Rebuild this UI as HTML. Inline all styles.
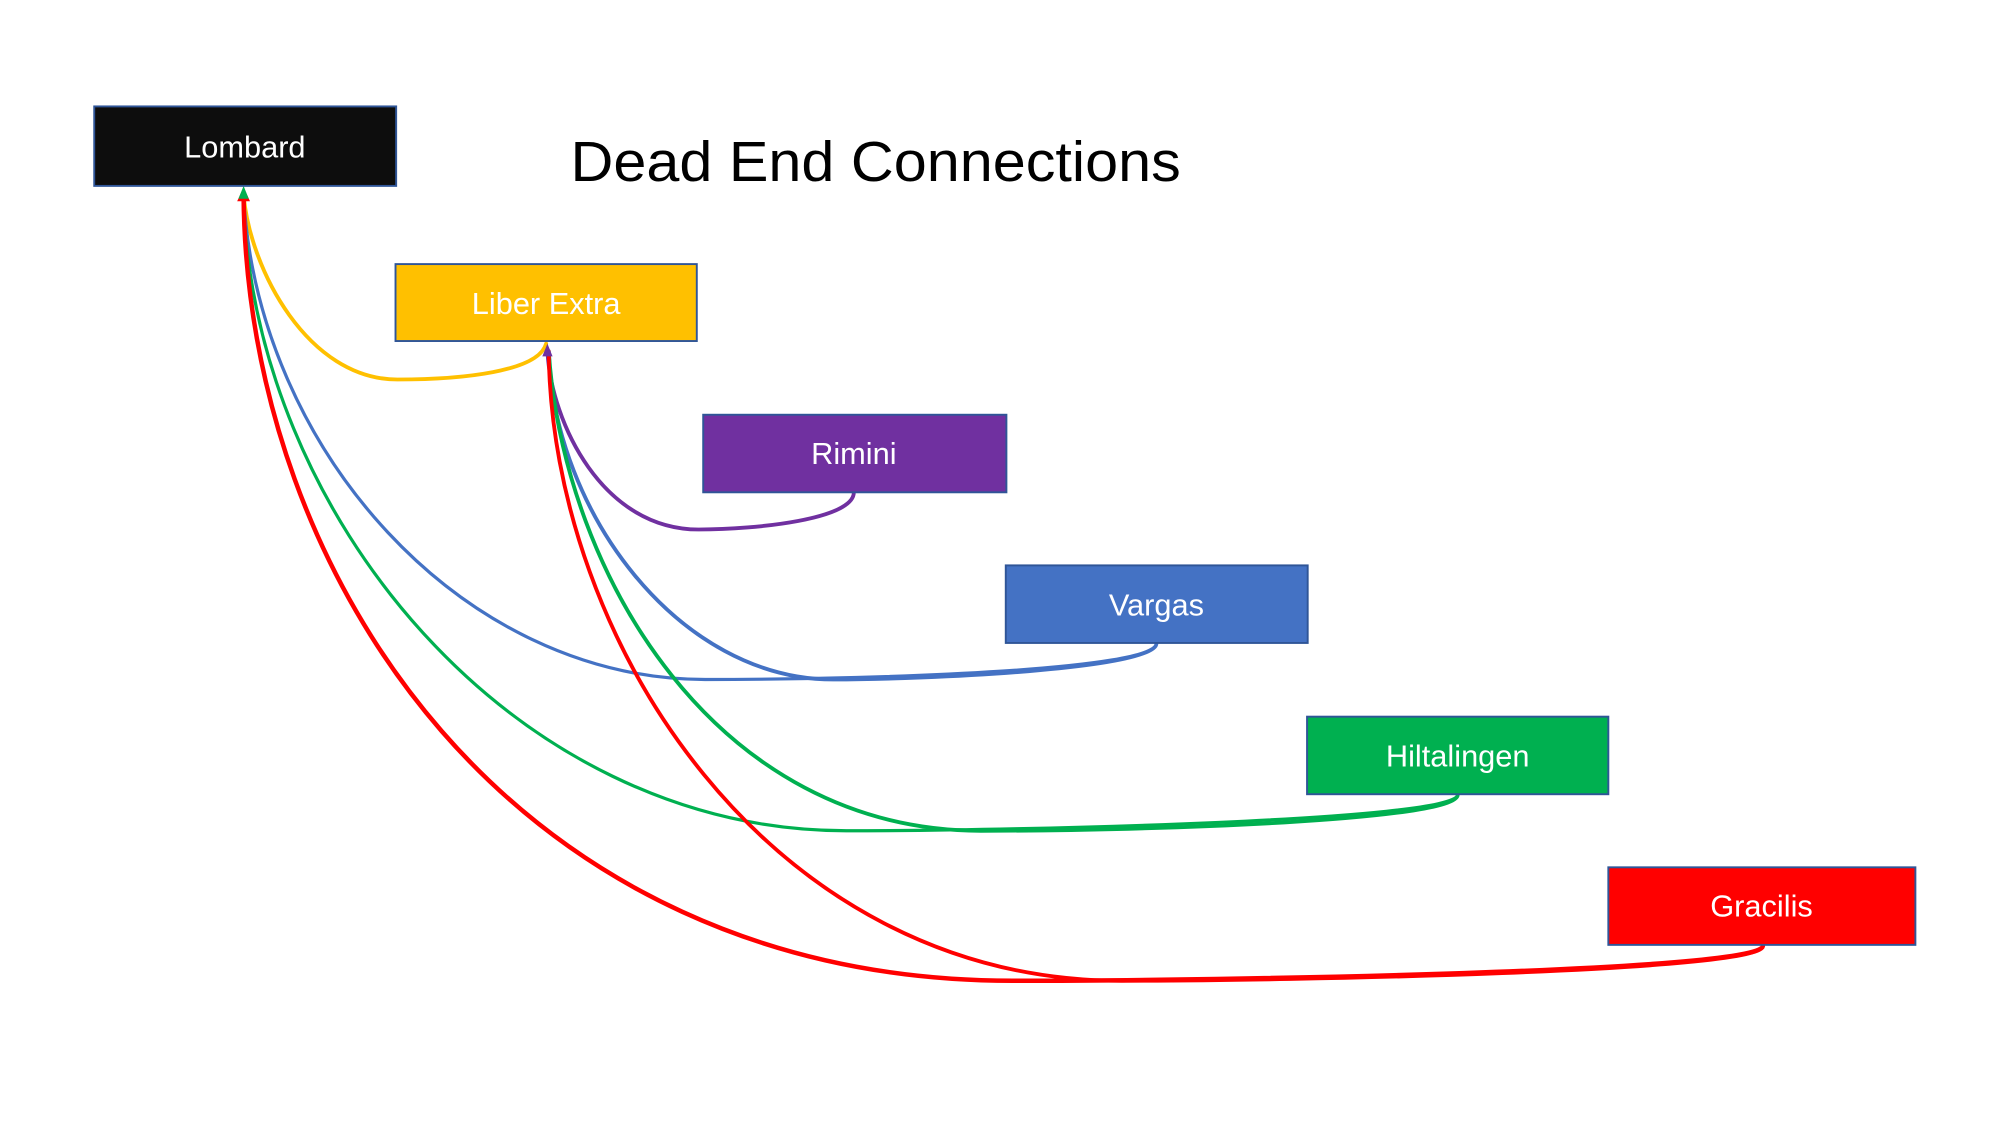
<!DOCTYPE html>
<html><head><meta charset="utf-8"><style>
html,body{margin:0;padding:0;background:#fff;width:2000px;height:1125px;overflow:hidden}
svg{display:block}
</style></head><body>
<svg width="2000" height="1125" viewBox="0 0 1560 877.5" xmlns="http://www.w3.org/2000/svg">
<g fill="none" stroke-linecap="round">
<path d="M426,268 C420,290 360,296 310,296 C240,296 195,210 190,152" stroke="#FFC000" stroke-width="3"/>
<path d="M666,384 C666,405 590,413 545,413 C470,413 430,330 427,274" stroke="#7030A0" stroke-width="3"/>
<path d="M902,502 C902,522 720,530 650,530 C530,530 432,400 428,274" stroke="#4472C4" stroke-width="3"/>
<path d="M902,502 C900,522 700,530 550,530 C360,530 200,350 190,152" stroke="#4472C4" stroke-width="2.5"/>
<path d="M1137,620 C1137,640 900,648 765,648 C560,648 440,450 428,274" stroke="#00B050" stroke-width="3"/>
<path d="M1137,620 C1135,640 800,648 660,648 C400,648 195,400 190,152" stroke="#00B050" stroke-width="2.5"/>
<path d="M1375,738 C1375,758 1000,765 875,765 C600,765 430,500 428,274" stroke="#FF0000" stroke-width="3"/>
<path d="M1375,738 C1372,758 950,765 790,765 C400,765 192,450 190,152" stroke="#FF0000" stroke-width="3.5"/>
</g>
<polygon points="190,146 185,157 195,157" fill="#FF0000"/>
<polygon points="190,145 186,155 194,155" fill="#00B050"/>
<polygon points="427,268 423,278 431,278" fill="#7030A0"/>
<g stroke="#2F5597" stroke-width="1.5">
<rect x="73.5" y="83" width="235.5" height="62" fill="#0D0D0D"/>
<rect x="308.5" y="206" width="235" height="60" fill="#FFC000"/>
<rect x="548.5" y="323.5" width="236.5" height="60.5" fill="#7030A0"/>
<rect x="784.5" y="441" width="235.5" height="60.5" fill="#4472C4"/>
<rect x="1019.5" y="559" width="235" height="60.5" fill="#00B050"/>
<rect x="1254.5" y="676.5" width="239.5" height="60.5" fill="#FF0000"/>
</g>
<g font-family="Liberation Sans, sans-serif" font-size="24" fill="#fff" text-anchor="middle">
<text x="191" y="123">Lombard</text>
<text x="426" y="245">Liber Extra</text>
<text x="666" y="362">Rimini</text>
<text x="902" y="480">Vargas</text>
<text x="1137" y="598">Hiltalingen</text>
<text x="1374" y="715">Gracilis</text>
</g>
<text x="445" y="141" font-family="Liberation Sans, sans-serif" font-size="44" fill="#000" textLength="476" lengthAdjust="spacingAndGlyphs">Dead End Connections</text>
</svg>
</body></html>
